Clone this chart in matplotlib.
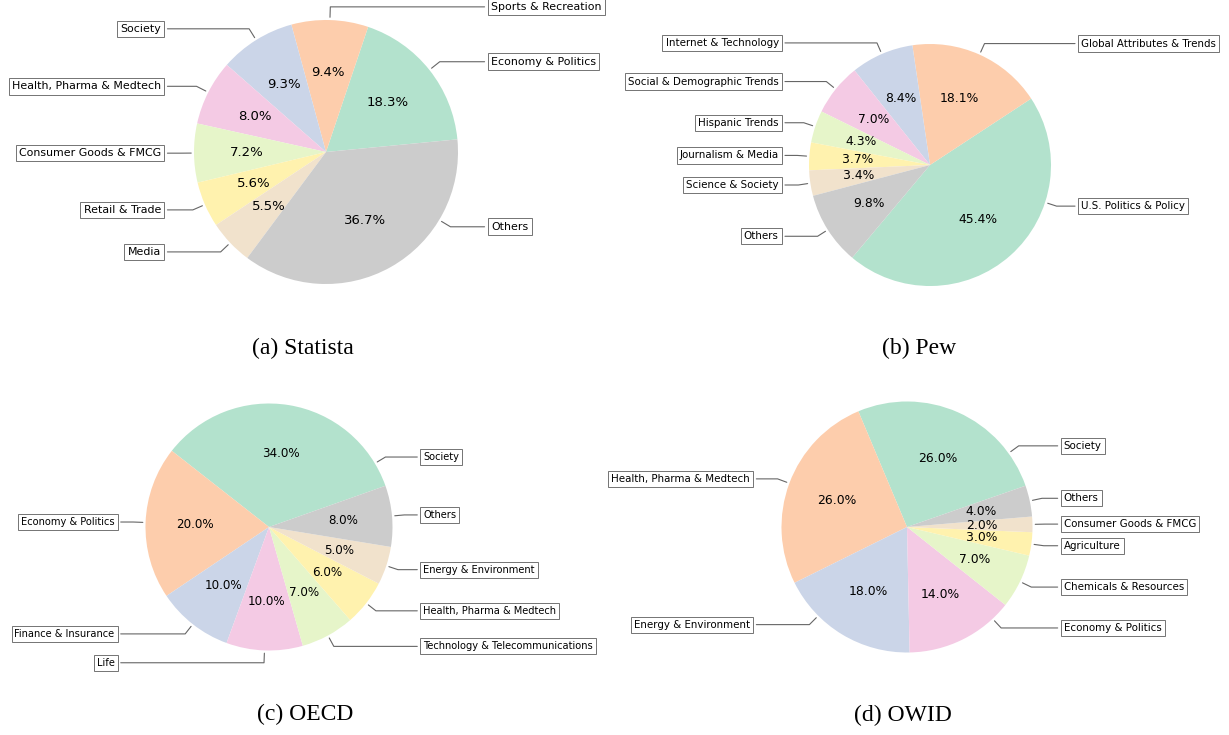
import numpy as np
import matplotlib.pyplot as plt

# data
statista_labels = ['Economy & Politics', 'Sports & Recreation', 'Society', 'Health, Pharma & Medtech',
                   'Consumer Goods & FMCG', 'Retail & Trade', 'Media', 'Others']
statista_values = [18.3, 9.4, 9.3, 8.0, 7.2, 5.6, 5.5, 36.7]

pew_labels = ['U.S. Politics & Policy', 'Global Attributes & Trends', 'Internet & Technology',
              'Social & Demographic Trends', 'Hispanic Trends', 'Journalism & Media',
              'Science & Society', 'Others']
pew_values = [45.4, 18.1, 8.4, 7.0, 4.3, 3.7, 3.4, 9.8]

oecd_labels = ['Society', 'Economy & Politics', 'Finance & Insurance', 'Life',
               'Technology & Telecommunications', 'Health, Pharma & Medtech',
               'Energy & Environment', 'Others']
oecd_values = [34.0, 20.0, 10.0, 10.0, 7.0, 6.0, 5.0, 8.0]

owid_labels = ['Society', 'Health, Pharma & Medtech', 'Energy & Environment', 'Economy & Politics',
               'Chemicals & Resources', 'Agriculture', 'Consumer Goods & FMCG', 'Others']
owid_values = [26.0, 26.0, 18.0, 14.0, 7.0, 3.0, 2.0, 4.0]

titles = ['(a) Statista', '(b) Pew', '(c) OECD', '(d) OWID']

W, H = 1229, 735
fig = plt.figure(figsize=(W / 100, H / 100), dpi=100)
colors = plt.get_cmap('Pastel2').colors


def draw(labels, values, start, cx, cy, r, moved, fs):
    # pie centre / radius in pixels (from top-left corner); fs = label font size
    ax = fig.add_axes([(cx - 1.25 * r) / W, (H - cy - 1.25 * r) / H, 2.5 * r / W, 2.5 * r / H])
    wedges, texts, autotexts = ax.pie(values, colors=colors, startangle=start,
                                      autopct='%1.1f%%', textprops=dict(fontsize=fs * 1.21))
    ax.set_xlim(-1.25, 1.25)
    ax.set_ylim(-1.25, 1.25)

    bbox_props = dict(boxstyle='square,pad=0.3', fc='w', ec='0.45', lw=0.7)
    for i, w in enumerate(wedges):
        ang = moved.get(i, (w.theta2 + w.theta1) / 2.)
        x = np.cos(np.deg2rad(ang))
        y = np.sin(np.deg2rad(ang))
        side = 1 if x >= 0 else -1
        ax.annotate(labels[i], xy=(x, y), xytext=(1.25 * side, 1.1 * y),
                    ha='left' if side > 0 else 'right', va='center', fontsize=fs,
                    bbox=bbox_props, zorder=0,
                    arrowprops=dict(arrowstyle='-', color='0.4', lw=0.8,
                                    connectionstyle=f'angle,angleA=0,angleB={ang}'))


draw(statista_labels, statista_values, 5.5, 326, 152, 132, {7: 329}, 7.9)
draw(pew_labels, pew_values, 230, 930, 165, 121, {0: 342}, 7.4)
draw(oecd_labels, oecd_values, 19.5, 269, 527, 123.5, {0: 31}, 7.1)
draw(owid_labels, owid_values, 19.2, 907, 527, 125.5, {0: 36, 2: 225, 3: 313}, 7.4)

title_pos = [(303, 348), (919, 348), (305, 714), (903, 715)]
for t, (tx, ty) in zip(titles, title_pos):
    fig.text(tx / W, 1 - ty / H, t, ha='center', va='center', fontsize=17, family='Liberation Serif')

plt.savefig('out.png', dpi=100)
